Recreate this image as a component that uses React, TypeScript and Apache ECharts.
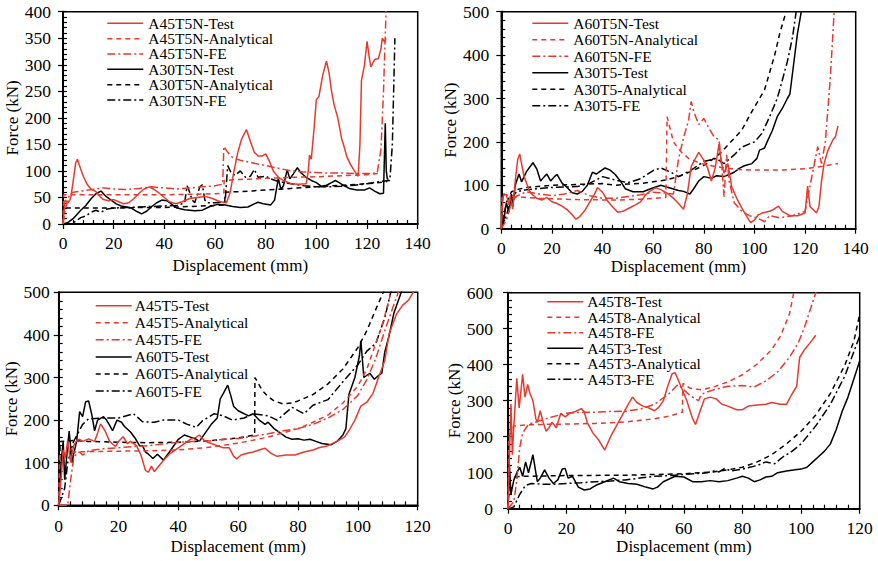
import React, { useEffect, useRef } from "react";
import * as echarts from "echarts";

// ---------- Panel 1 (top-left) ----------
const p1_A45T5N_Test = [[0,0],[0.8,45],[2,40],[3,48],[4,80],[5,115],[5.7,122],[6.5,110],[8,90],[9.5,75],[11,66],[13,61],[14.5,52],[16,46],[18,44],[20,46],[22,42],[24,38],[26,40],[28,48],[30,58],[32,66],[34,70],[36,65],[38,58],[40,50],[42,42],[44.5,38],[47,42],[50,48],[53,50],[56,52],[59,48],[62,42],[64.5,40],[66,60],[67.5,100],[69,135],[70.5,160],[72.4,178],[74,155],[75.5,135],[77,128],[78.5,128],[80,132],[81.5,118],[83,100],[85,88],[87,82],[90,76],[93,75],[96,76],[96.8,100],[97.3,130],[98,122],[99,175],[100,234],[101,240],[102.5,280],[104,307],[105,285],[106,250],[107,225],[108.5,199],[110,160],[111,145],[112,127],[113.5,112],[115,100],[116.5,90],[117.2,150],[117.8,270],[119,300],[120,344],[121,310],[121.5,296],[123,310],[124.5,312],[125.5,330],[126,350],[127,343],[127.5,350]];
const p1_A45T5N_Analytical = [[0,0],[0.3,55],[10,55],[20,55],[30,55],[40,55],[50,56],[60,57],[63.5,58],[63.6,82],[70,84],[80,86],[90,88],[100,89],[110,91],[120,93],[124,95],[125,96]];
const p1_A45T5N_FE = [[0,0],[1,30],[2.5,55],[4,60],[7,62],[10,64],[13,66],[16,68],[20,66],[25,65],[30,67],[35,70],[40,68],[45,66],[50,68],[55,70],[60,72],[63,75],[63.5,146],[65,135],[67,125],[70,120],[75,115],[80,110],[85,105],[90,100],[95,98],[100,97],[105,96],[110,96],[115,95],[120,95],[124,96],[125.5,140],[126.5,250],[127.5,400],[127.7,420]];
const p1_A30T5N_Test = [[0,0],[2,3],[4,10],[5.5,18],[7,26],[9,35],[11,47],[13,57],[15,62],[17,52],[19,45],[21,38],[23,34],[25,32],[27,30],[29,24],[31,19],[33,24],[35,33],[37,40],[39,45],[41,44],[43,37],[45,30],[48,27],[52,25],[55,26],[58,33],[61,37],[64,36],[67,33],[70,31],[73,32],[75.5,38],[77,41],[79,38],[82,36],[83.5,45],[85,86],[86,65],[87,72],[88.5,102],[89.5,85],[91,95],[92.5,106],[94,96],[96,88],[98,82],[100,78],[102,71],[104,73],[106,78],[107.5,82],[109,78],[111,72],[113,67],[116,64],[119,64],[121,68],[123,62],[125,57],[126.5,58],[127.2,190],[127.6,100],[128,85],[128.5,85]];
const p1_A30T5N_Analytical = [[0,0],[0.3,30],[10,30],[20,30],[30,31],[40,31],[50,33],[60,35],[63.8,36],[64,60],[70,61],[80,64],[90,67],[100,70],[110,73],[120,76],[125,78],[128,80]];
const p1_A30T5N_FE = [[0,0],[3,0],[5,5],[7,12],[9,15],[11,22],[13,26],[15,22],[17,28],[20,30],[25,31],[30,32],[35,33],[40,34],[45,35],[48,40],[49,72],[50,60],[51,45],[52,40],[54,70],[55,74],[56,45],[57,40],[60,40],[64,42],[65,110],[66.5,95],[68,92],[70,100],[72,88],[74,90],[75.5,103],[77,88],[80,90],[82,85],[85,80],[90,76],[95,72],[100,70],[105,70],[110,71],[115,73],[120,76],[125,80],[129,82],[130,150],[131,350]];

// ---------- Panel 2 (top-right) ----------
const p2_A60T5N_Test = [[0,0],[0.5,60],[1,80],[2,78],[3,55],[3.5,75],[4.5,45],[5.5,110],[6.5,160],[7.3,172],[8,150],[9,120],[10,105],[11,88],[12,80],[14,70],[16,66],[18,72],[20,62],[22,58],[24,52],[26,44],[28,32],[29.5,22],[31,28],[33,42],[35,62],[37,82],[38,95],[40,84],[42,64],[44,50],[46,38],[48,40],[50,46],[53,55],[55,62],[57,78],[59,88],[61,94],[63,90],[66,80],[68,70],[70,58],[72,45],[73.5,80],[75,143],[76.5,160],[78,176],[80,158],[81.5,140],[83,110],[84.5,140],[86,195],[87,150],[88,128],[89.5,150],[91,97],[93,70],[95,48],[97,28],[98.5,14],[100,20],[101.5,32],[103,36],[106,40],[108,46],[109.5,52],[111,40],[114,30],[117,30],[120,36],[121,98],[122,50],[123,45],[124.5,36],[125.5,52],[126.5,110],[127.5,150],[129,180],[131,205],[132,212],[133,237]];
const p2_A60T5N_Analytical = [[0,0],[0.3,80],[5,74],[15,70],[30,67],[45,66],[55,68],[65,72],[65.5,258],[68,200],[71,177],[74,162],[78,152],[82,146],[88,140],[95,136],[100,135],[110,135],[120,138],[125,142],[133,150]];
const p2_A60T5N_FE = [[0,0],[2,20],[4,60],[6,75],[10,85],[15,80],[20,76],[25,80],[30,88],[35,76],[40,70],[45,70],[50,74],[55,78],[60,84],[65,82],[68,80],[70,160],[72,210],[74,250],[75,293],[76,270],[78,240],[80,254],[82,232],[84,212],[86,205],[87,150],[88,74],[89,170],[90,110],[92,60],[95,40],[98,30],[101,25],[104,16],[106,30],[110,25],[115,30],[120,40],[122,100],[125,189],[126.5,150],[128,200],[130,350],[131.5,500],[131.7,520]];
const p2_A30T5_Test = [[0,0],[1,20],[2,60],[3,38],[4,80],[4.5,50],[5.5,100],[7,126],[8,108],[10,132],[12.5,152],[14,138],[15.5,110],[17,120],[18,126],[19.5,110],[21,120],[22,125],[24,105],[26,95],[28,83],[30,80],[32,86],[34,100],[36,130],[37.5,126],[40,136],[41,140],[43,135],[45,125],[47,110],[49,92],[52,85],[56,85],[59,92],[63,100],[66,95],[70,88],[72,86],[74.5,80],[76,92],[78,110],[80,120],[83,116],[85,122],[88,120],[90,125],[92,130],[94,139],[96,145],[99,150],[101,162],[102,181],[104,186],[105,200],[107,225],[109,258],[111,277],[113,300],[114,310],[115.5,380],[117,450],[118.5,500],[119,520]];
const p2_A30T5_Analytical = [[0,0],[2,60],[4,85],[6,90],[10,95],[20,100],[30,102],[40,104],[45,100],[50,103],[55,104],[60,108],[65,112],[70,120],[75,132],[80,146],[84,162],[87,177],[91,202],[95,227],[98,260],[101,290],[104,320],[106,360],[108,400],[110,450],[112.5,500],[113,520]];
const p2_A30T5_FE = [[0,0],[2,30],[4,70],[6,85],[10,90],[20,95],[30,97],[35,105],[40,120],[45,112],[50,106],[55,115],[60,134],[63,140],[67,130],[70,120],[75,135],[80,155],[85,162],[88,150],[92,170],[95,188],[100,200],[103,220],[106,258],[109,300],[111,342],[113,385],[115,440],[116.5,500],[117,520]];

// ---------- Panel 3 (bottom-left) ----------
const p3_A45T5_Test = [[0,0],[1,80],[1.5,130],[2.2,110],[3,151],[4,100],[5,140],[6,152],[7,155],[8,150],[10,156],[12,150],[13,170],[14,191],[15.5,175],[17,150],[19,138],[20,150],[21.5,161],[23,145],[24,150],[26,140],[27.5,118],[29,82],[30,78],[31,92],[32,79],[33,88],[35,105],[37,120],[39,130],[40,135],[42,145],[44,155],[46,160],[47,165],[49,150],[51,145],[53,140],[55,135],[57,135],[58.5,115],[59.5,109],[61,118],[63,122],[65,125],[67,130],[69,134],[71,122],[73,115],[76,118],[79,118],[82,125],[85,130],[87,135],[90,140],[93,150],[95.5,160],[97,175],[99,200],[101,233],[103,242],[105,262],[107,302],[109,340],[110.5,404],[113,450],[115,470],[117,482],[118.5,500],[118.8,510]];
const p3_A45T5_Analytical = [[0,0],[0.3,120],[5,125],[10,126],[20,127],[30,128],[40,130],[50,136],[60,146],[70,160],[75,170],[80,180],[85,195],[90,212],[95,240],[100,280],[103,320],[106,380],[108,420],[110,470],[111,500],[111.5,515]];
const p3_A45T5_FE = [[0,0],[3,0],[4,60],[5,110],[6,122],[7,125],[8,118],[10,128],[15,133],[20,135],[25,138],[30,140],[35,144],[40,148],[45,150],[50,151],[55,155],[60,157],[65,162],[70,168],[75,175],[80,180],[85,190],[90,205],[95,225],[100,258],[103,295],[106,345],[109,410],[112,470],[113.5,500],[114,515]];
const p3_A60T5_Test = [[0,0],[0.8,100],[1.5,150],[2,60],[3,140],[3.5,174],[4.5,100],[5,120],[6,150],[7,220],[8,208],[9,243],[10,245],[11,215],[12,175],[13,200],[15,208],[16,200],[17,188],[18,175],[19.5,200],[21,195],[22,185],[24,172],[25.5,158],[27,140],[28,140],[29,125],[30,120],[31.5,110],[33,120],[35,106],[37,125],[38,135],[40,155],[42,165],[44,160],[46,155],[47,150],[49,170],[51,190],[53,205],[54,250],[55,262],[56.5,282],[57.5,258],[58.5,232],[60,222],[62,215],[63.5,210],[65,215],[67,200],[69,190],[70,195],[72,180],[74,170],[76,160],[78,155],[80,156],[82,153],[84,155],[86,150],[88,145],[91,142],[93,150],[95,165],[96,180],[97,260],[99,300],[100.5,350],[101,386],[102,300],[104,310],[105.5,296],[107,305],[108,310],[109,360],[110.5,400],[112,450],[114.5,500],[115,510]];
const p3_A60T5_Analytical = [[0,0],[0.5,150],[5,152],[10,150],[20,148],[30,147],[40,148],[50,151],[60,158],[65.5,165],[65.6,300],[68,270],[70,255],[72,245],[75,238],[78,240],[80,245],[85,260],[90,285],[95,320],[100,370],[103,410],[106,460],[108.5,500],[109,510]];
const p3_A60T5_FE = [[0,0],[2,40],[3,100],[5,150],[8,190],[10,203],[15,205],[20,205],[25,215],[28,196],[32,195],[35,200],[40,200],[43,190],[46,183],[48,198],[52,215],[55,210],[58,200],[62,205],[65,215],[70,210],[73,200],[78,230],[82,215],[85,235],[90,248],[95,290],[100,330],[103,362],[106,380],[109,440],[111,500],[111.5,510]];

// ---------- Panel 4 (bottom-right) ----------
const p4_A45T8_Test = [[0,0],[0.5,150],[1,291],[1.5,150],[2,230],[3,362],[3.8,280],[5,373],[5.8,310],[6.7,345],[7.5,320],[8.5,300],[9.5,250],[10,240],[11,272],[12,240],[13,215],[14,225],[15,240],[16.5,225],[18,265],[19.5,255],[21,265],[23,270],[25,278],[26,270],[27,240],[29,210],[31,190],[33,163],[35,200],[37,230],[39,260],[41,290],[42.5,310],[44,295],[46,285],[48,280],[50,272],[51.5,282],[53,300],[54.5,340],[56,375],[57,378],[59,340],[61,300],[63,250],[64,234],[65.5,270],[67,305],[69,310],[71,305],[73,290],[75,285],[78,275],[80,275],[82,285],[85,288],[88,290],[90,295],[93,290],[95,290],[97,320],[98.5,340],[99.5,420],[101,440],[103,460],[105,482]];
const p4_A45T8_Analytical = [[0,0],[0.3,200],[2,230],[5,232],[10,234],[20,235],[30,237],[40,241],[50,250],[55,257],[59.5,268],[59.7,348],[62,335],[66,330],[70,338],[75,352],[80,372],[85,402],[90,442],[93,480],[96,540],[97.5,600],[98,620]];
const p4_A45T8_FE = [[0,0],[2,20],[3,80],[4,170],[5,210],[7,235],[10,242],[15,255],[20,265],[25,268],[30,268],[35,270],[40,271],[45,276],[50,290],[55,320],[58,345],[60,330],[62,315],[65,300],[66,318],[70,330],[75,340],[80,342],[84,338],[88,355],[92,380],[96,420],[99,460],[101,500],[103,550],[105,600],[105.5,615]];
const p4_A45T3_Test = [[0,0],[0.5,120],[1,40],[2,80],[3,100],[4,115],[5,90],[6,130],[7,100],[8.5,150],[9.5,100],[10,75],[11,85],[12.5,108],[14,85],[15.5,70],[17,80],[18.5,110],[19.5,112],[20.5,85],[22,90],[24,60],[26,52],[28,55],[30,65],[33,75],[36,85],[38,75],[41,70],[44,68],[47,60],[49.5,55],[51,60],[53,75],[57,90],[60,88],[63,75],[66,75],[69,78],[72,75],[75,78],[78,85],[80,90],[82,85],[84,75],[86,80],[88,88],[90,90],[92,100],[95,105],[98,108],[100,110],[102,115],[104,130],[106,145],[108,160],[110,180],[112,220],[114,270],[116,310],[118,360],[120,410]];
const p4_A45T3_Analytical = [[0,0],[0.5,85],[2,88],[5,90],[20,92],[40,93],[60,97],[70,102],[75,108],[80,115],[85,130],[90,150],[95,180],[100,215],[105,260],[110,320],[115,400],[118,465],[120,540]];
const p4_A45T3_FE = [[0,0],[2,5],[4,40],[6,65],[8,70],[12,68],[15,68],[20,70],[25,72],[30,75],[35,77],[40,80],[45,85],[50,90],[55,92],[60,95],[65,98],[68,100],[70,105],[72,102],[74,112],[76,105],[80,110],[85,120],[88,130],[91,125],[94,145],[97,160],[100,180],[105,230],[110,290],[115,370],[120,480]];

// ---------- Axis settings ----------
const xMax = [140, 140, 120, 120];
const xMajor = [20, 20, 20, 20];
const xMinor = [4, 4, 4, 4];
const yMax = [400, 500, 500, 600];
const yMajor = [50, 100, 100, 100];
const yMinor = [10, 20, 20, 20];
const xTitle = "Displacement (mm)";
const yTitle = "Force (kN)";

const RED = "#e8392f";
const BLACK = "#000000";
const FONT = "Liberation Serif";

const panels = [
  { names: ["A45T5N-Test", "A45T5N-Analytical", "A45T5N-FE", "A30T5N-Test", "A30T5N-Analytical", "A30T5N-FE"],
    data: [p1_A45T5N_Test, p1_A45T5N_Analytical, p1_A45T5N_FE, p1_A30T5N_Test, p1_A30T5N_Analytical, p1_A30T5N_FE] },
  { names: ["A60T5N-Test", "A60T5N-Analytical", "A60T5N-FE", "A30T5-Test", "A30T5-Analytical", "A30T5-FE"],
    data: [p2_A60T5N_Test, p2_A60T5N_Analytical, p2_A60T5N_FE, p2_A30T5_Test, p2_A30T5_Analytical, p2_A30T5_FE] },
  { names: ["A45T5-Test", "A45T5-Analytical", "A45T5-FE", "A60T5-Test", "A60T5-Analytical", "A60T5-FE"],
    data: [p3_A45T5_Test, p3_A45T5_Analytical, p3_A45T5_FE, p3_A60T5_Test, p3_A60T5_Analytical, p3_A60T5_FE] },
  { names: ["A45T8-Test", "A45T8-Analytical", "A45T8-FE", "A45T3-Test", "A45T3-Analytical", "A45T3-FE"],
    data: [p4_A45T8_Test, p4_A45T8_Analytical, p4_A45T8_FE, p4_A45T3_Test, p4_A45T3_Analytical, p4_A45T3_FE] },
];

// layout (pixels)
const grids = [
  { left: 63, top: 11.7, width: 354.7, height: 212.3 },
  { left: 501.3, top: 11.7, width: 354.4, height: 217 },
  { left: 58.7, top: 292.3, width: 359, height: 213 },
  { left: 508, top: 292.7, width: 351.7, height: 216 },
];
const xNameGap = [33, 29, 33, 29];
const yNameGap = [39, 36, 38, 42];
const xLabelMargin = [10, 10, 12, 10];
const yLabelMargin = [12, 12, 9, 15];
const legendPos = [
  { left: 107.3, top: 23.3, step: 15.34, textGap: 5 },
  { left: 532.3, top: 23.3, step: 16.5, textGap: 5 },
  { left: 95.7, top: 305.7, step: 17.06, textGap: 3 },
  { left: 547.3, top: 301.7, step: 15.5, textGap: 4 },
];

const styles = [
  { color: RED, type: "solid", dash: null },
  { color: RED, type: [5, 4], dash: [5, 4] },
  { color: RED, type: [8, 3, 2, 3], dash: [8, 3, 2, 3] },
  { color: BLACK, type: "solid", dash: null },
  { color: BLACK, type: [5, 4], dash: [5, 4] },
  { color: BLACK, type: [8, 3, 2, 3], dash: [8, 3, 2, 3] },
];

export default function App() {
  const ref = useRef<HTMLDivElement>(null);
  useEffect(() => {
    if (!ref.current) return;
    const chart = echarts.init(ref.current, null, { renderer: "svg" });
    const tickLine = { color: "#000", width: 1.2 };
    const xAxes: any[] = [];
    const yAxes: any[] = [];
    for (let i = 0; i < 4; i++) {
      xAxes.push({
        type: "value", gridIndex: i, min: 0, max: xMax[i], interval: xMajor[i],
        axisLine: { show: true, onZero: false, lineStyle: { color: "#000", width: 2 } },
        axisTick: { show: true, inside: false, length: 5, lineStyle: tickLine },
        axisLabel: { margin: xLabelMargin[i], fontSize: 17.5, color: "#000", fontFamily: FONT },
        splitLine: { show: false },
        name: xTitle, nameLocation: "middle", nameGap: xNameGap[i],
        nameTextStyle: { fontSize: 17, color: "#000", fontFamily: FONT },
      });
      yAxes.push({
        type: "value", gridIndex: i, min: 0, max: yMax[i], interval: yMajor[i],
        axisLine: { show: true, onZero: false, lineStyle: { color: "#000", width: 2 } },
        axisTick: { show: true, inside: false, length: 5, lineStyle: tickLine },
        axisLabel: { margin: yLabelMargin[i], fontSize: 17.5, color: "#000", fontFamily: FONT },
        splitLine: { show: false },
        name: yTitle, nameLocation: "middle", nameGap: yNameGap[i],
        nameTextStyle: { fontSize: 17, color: "#000", fontFamily: FONT },
      });
    }
    for (let i = 0; i < 4; i++) {
      xAxes.push({
        type: "value", gridIndex: i, min: 0, max: xMax[i], interval: xMinor[i], position: "bottom",
        axisLine: { show: false }, axisLabel: { show: false }, splitLine: { show: false },
        axisTick: { show: true, inside: true, length: 4, lineStyle: tickLine },
      });
      yAxes.push({
        type: "value", gridIndex: i, min: 0, max: yMax[i], interval: yMinor[i], position: "left",
        axisLine: { show: false }, axisLabel: { show: false }, splitLine: { show: false },
        axisTick: { show: true, inside: true, length: 4, lineStyle: tickLine },
      });
    }
    const series: any[] = [];
    panels.forEach((p, i) => {
      p.data.forEach((d, j) => {
        series.push({
          type: "line", name: p.names[j], xAxisIndex: i, yAxisIndex: i,
          data: d, symbol: "none", showSymbol: false, clip: true,
          lineStyle: { color: styles[j].color, width: 1.5, type: styles[j].type },
          itemStyle: { color: styles[j].color },
          z: j < 3 ? 3 : 2,
        });
      });
    });
    const graphics: any[] = [];
    panels.forEach((p, i) => {
      const lp = legendPos[i];
      p.names.forEach((name, j) => {
        const y = lp.top + j * lp.step;
        graphics.push({
          type: "line", silent: true, z: 10,
          shape: { x1: lp.left, y1: y, x2: lp.left + 36, y2: y },
          style: { stroke: styles[j].color, lineWidth: 1.5, lineDash: styles[j].dash || undefined },
        });
        graphics.push({
          type: "text", silent: true, z: 10, x: lp.left + 36 + lp.textGap, y: y,
          style: { text: name, fill: "#000", font: `15.5px ${FONT}`, align: "left", verticalAlign: "middle" },
        });
      });
    });
    chart.setOption({
      animation: false,
      backgroundColor: "#fff",
      grid: grids.map((g) => ({ ...g, show: true, borderColor: "#000", borderWidth: 1.5, backgroundColor: "transparent", containLabel: false })),
      xAxis: xAxes,
      yAxis: yAxes,
      series,
      graphic: graphics,
    });
    return () => chart.dispose();
  }, []);
  return <div ref={ref} style={{ position: "absolute", left: 0, top: 0, width: 878, height: 561 }} />;
}
